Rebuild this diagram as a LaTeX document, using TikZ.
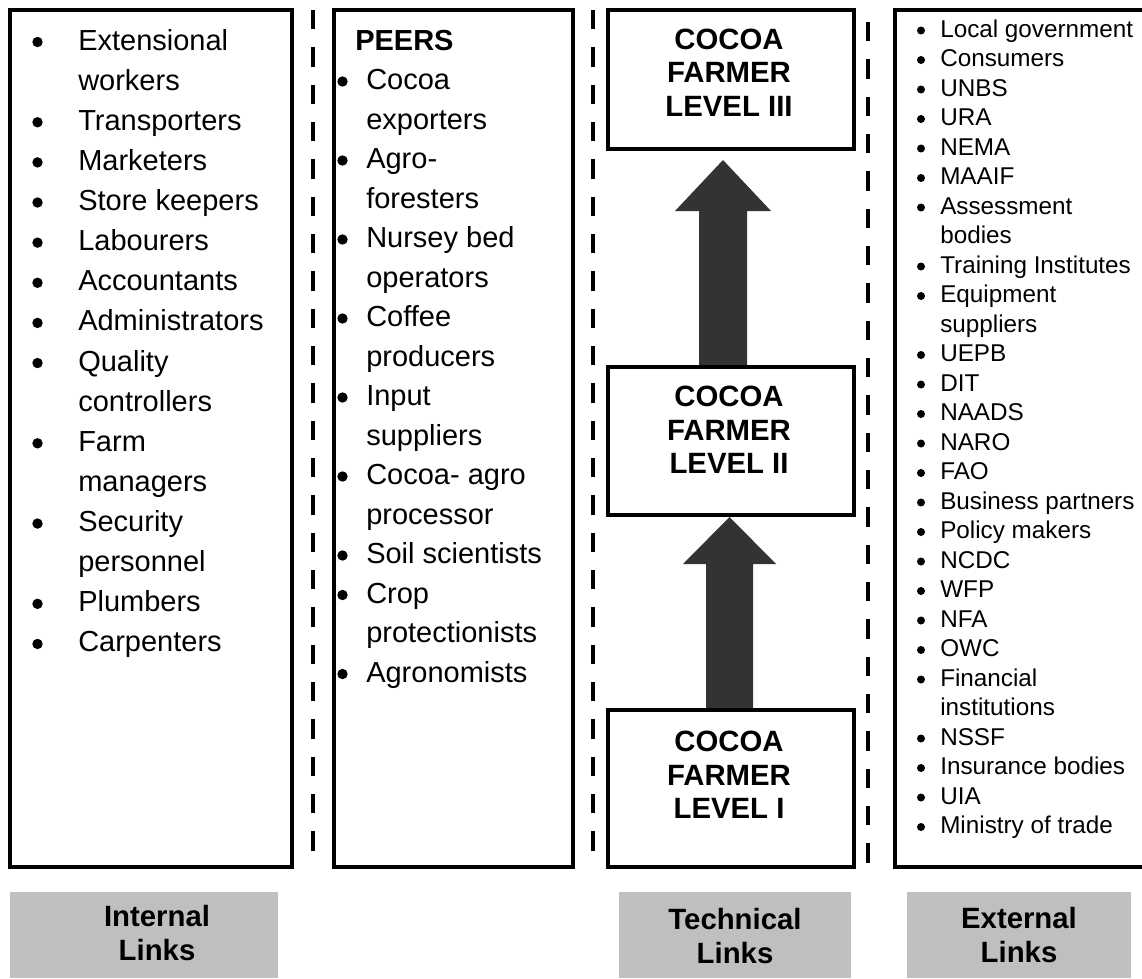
\documentclass[tikz,border=0pt]{standalone}
\usepackage{fontspec}
\setmainfont{Liberation Sans}
\definecolor{labelgray}{RGB}{191,191,191}
\definecolor{arrowgray}{RGB}{51,51,51}
\begin{document}
\begin{tikzpicture}[x=0.75pt,y=-0.75pt,
  frame/.style={draw=black, line width=3pt},
  levelbox/.style={draw=black, line width=3pt, minimum width=184.1pt, outer sep=0pt, inner sep=0pt},
  sep/.style={draw=black, line width=3.4pt, dash pattern=on 14.5pt off 13.5pt},
  bigtxt/.style={font=\fontsize{21.75}{30}\selectfont, inner sep=0pt, anchor=base west},
  smalltxt/.style={font=\fontsize{18.2}{22}\selectfont, inner sep=0pt, anchor=base west},
  bigdot/.style={circle, fill=black, inner sep=0pt, minimum size=7.8pt},
  smalldot/.style={circle, fill=black, inner sep=0pt, minimum size=6pt},
  boldtxt/.style={font=\bfseries\fontsize{22}{25.1}\selectfont, align=center, inner sep=0pt},
  labelbox/.style={fill=labelgray, draw=none},
  fatarrow/.style={fill=arrowgray, draw=none}]
\useasboundingbox (0,0) rectangle (1142,978);

% separators
\draw[sep] (313,10) -- (313,867);
\draw[sep] (593,10) -- (593,867);
\draw[sep] (868,22) -- (868,878);

% column frames
\draw[frame] (10,10) rectangle (292,867);
\draw[frame] (334,10) rectangle (573,867);
\draw[frame] (1150,10) -- (895,10) -- (895,867) -- (1150,867);

% big arrows
\fill[fatarrow] (699,367) |- (675,211) -- (723,160) -- (771,211) -| (747,367) -- cycle;
\fill[fatarrow] (706,710) |- (683,564) -- (729.5,517) -- (776,564) -| (753,710) -- cycle;

% level boxes
\node[levelbox, minimum height=104.25pt] (L3) at (731,79.5) {};
\node[levelbox, minimum height=111pt] (L2) at (731,441) {};
\node[levelbox, minimum height=117.75pt] (L1) at (731,788.5) {};
\node[boldtxt] (t3) at (729,72.5) {COCOA\\FARMER\\LEVEL III};
\node[boldtxt] (t2) at (729,430) {COCOA\\FARMER\\LEVEL II};
\node[boldtxt] (t1) at (729,775) {COCOA\\FARMER\\LEVEL I};

% internal list
\foreach \b/\t [count=\i] in {1/Extensional, 0/workers, 1/Transporters, 1/Marketers, 1/Store keepers, 1/Labourers, 1/Accountants, 1/Administrators, 1/Quality, 0/controllers, 1/Farm, 0/managers, 1/Security, 0/personnel, 1/Plumbers, 1/Carpenters}{
  \node[bigtxt] (int\i) at (78,{50+40.13*(\i-1)}) {\t};
  \ifnum\b=1 \node[bigdot] (intb\i) at (37.5,{42+40.13*(\i-1)}) {};\fi
}

% peers list
\node[bigtxt, font=\bfseries\fontsize{21.75}{30}\selectfont] (peers) at (355,50) {PEERS};
\foreach \b/\t [count=\i] in {1/Cocoa, 0/exporters, 1/Agro-, 0/foresters, 1/Nursey bed, 0/operators, 1/Coffee, 0/producers, 1/Input, 0/suppliers, 1/Cocoa- agro, 0/processor, 1/Soil scientists, 1/Crop, 0/protectionists, 1/Agronomists}{
  \node[bigtxt] (peer\i) at (366,{50+39.5*\i}) {\t};
  \ifnum\b=1 \node[bigdot] (peerb\i) at (342.5,{42+39.5*\i}) {};\fi
}

% external list
\foreach \b/\t [count=\i] in {1/Local government, 1/Consumers, 1/UNBS, 1/URA, 1/NEMA, 1/MAAIF, 1/Assessment, 0/bodies, 1/Training Institutes, 1/Equipment, 0/suppliers, 1/UEPB, 1/DIT, 1/NAADS, 1/NARO, 1/FAO, 1/Business partners, 1/Policy makers, 1/NCDC, 1/WFP, 1/NFA, 1/OWC, 1/Financial, 0/institutions, 1/NSSF, 1/Insurance bodies, 1/UIA, 1/Ministry of trade}{
  \node[smalltxt] (ext\i) at (940,{37+29.5*(\i-1)}) {\t};
  \ifnum\b=1 \node[smalldot] (extb\i) at (921,{30.5+29.5*(\i-1)}) {};\fi
}

% link labels
\fill[labelbox] (10,892) rectangle (278,978);
\fill[labelbox] (619,892) rectangle (851,978);
\fill[labelbox] (907,892) rectangle (1131,978);
\node[boldtxt] (lint) at (157,933) {Internal\\Links};
\node[boldtxt] (ltech) at (735,936) {Technical\\Links};
\node[boldtxt] (lext) at (1019,935) {External\\Links};
\end{tikzpicture}
\end{document}
